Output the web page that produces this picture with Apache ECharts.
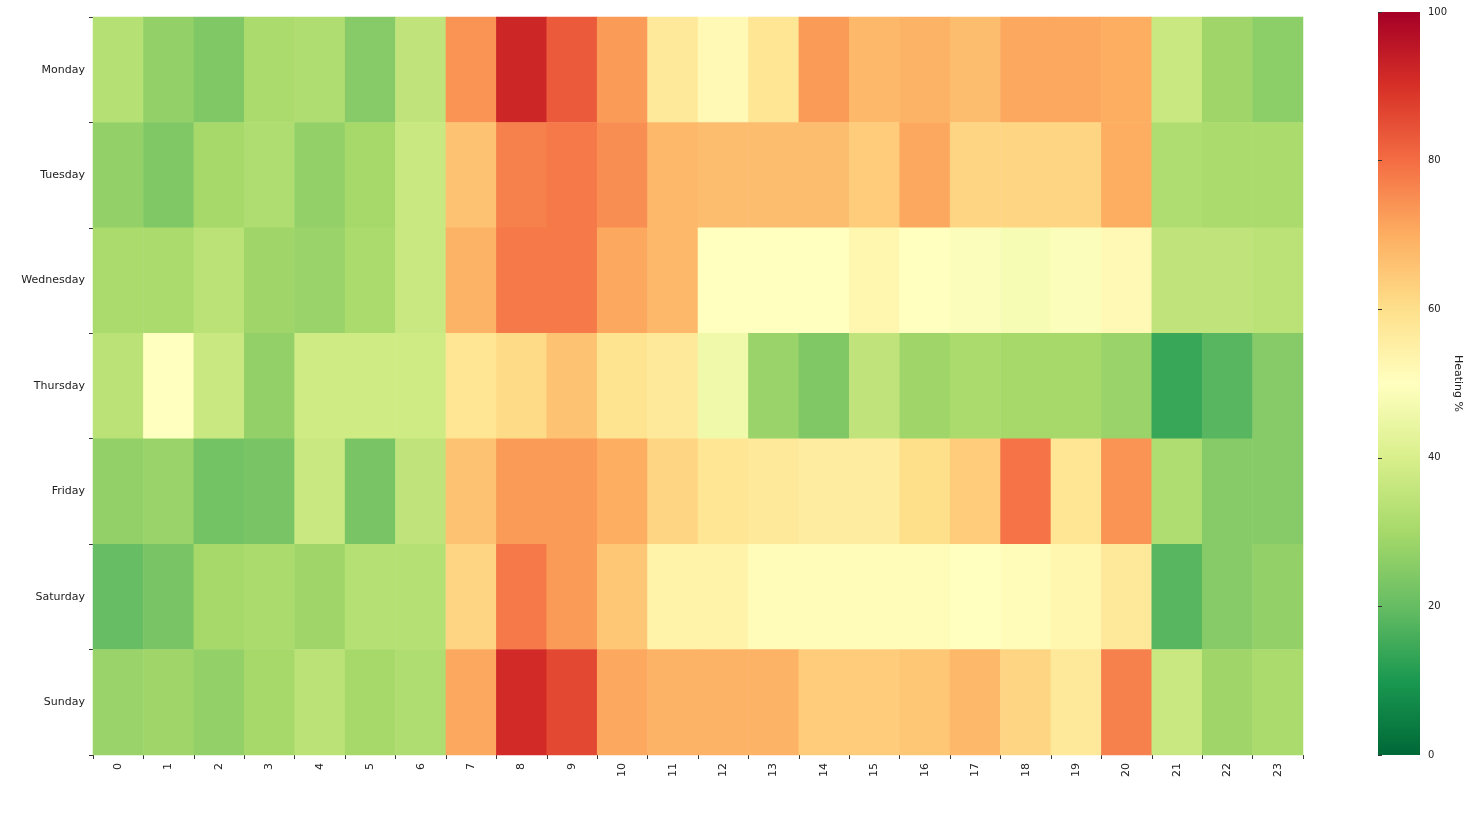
<!DOCTYPE html>
<html><head><meta charset="utf-8">
<script src="https://cdn.jsdelivr.net/npm/echarts@6/dist/echarts.min.js"></script>
<style>html,body{margin:0;background:#fff}#c{width:1484px;height:817px}</style>
</head><body><div id="c"></div>
<script>
const hours = Array.from({length:24},(_,i)=>String(i));
const days = ['Monday','Tuesday','Wednesday','Thursday','Friday','Saturday','Sunday'];
const monday    = [33,27,24,31,32,25,35,74,92,83,73,57,52,58,73,68,69,67,71,71,70,37,29,26];
const tuesday   = [27,24,30,32,27,30,37,66,77,78,75,68,67,67,67,64,71,62,62,62,70,32,31,31];
const wednesday = [31,31,34,29,28,31,37,69,78,78,71,68,50,50,50,53,50,49,48,49,52,35,35,34];
const thursday  = [34,50,37,27,38,38,38,58,61,66,59,57,46,28,24,35,29,31,30,30,28,14,18,25];
const friday    = [27,28,22,23,37,23,35,66,73,73,70,62,58,57,56,56,60,64,79,58,74,32,25,25];
const saturday  = [20,23,30,31,29,33,33,62,78,73,65,54,54,51,51,51,51,50,51,53,57,18,25,27];
const sunday    = [28,29,27,30,34,30,32,71,91,86,71,69,69,69,64,64,65,68,62,57,77,37,29,31];
const rows = [monday,tuesday,wednesday,thursday,friday,saturday,sunday];
const data = [];
rows.forEach((r,y)=>r.forEach((v,x)=>data.push([x,y,v])));
const cmap = ['#006837','#1a9850','#66bd63','#a6d96a','#d9ef8b','#ffffbf','#fee08b','#fdae61','#f46d43','#d73027','#a50026'];
const lbl = {fontFamily:'DejaVu Sans',fontSize:11,color:'#222'};
const chart = echarts.init(document.getElementById('c'));
chart.setOption({
  animation:false,
  grid:[{left:93,right:181,top:17,bottom:62},{left:1378,width:42,top:12,height:743}],
  graphic:[{type:'rect',shape:{x:1378,y:12,width:42,height:743},z:0,
    style:{fill:new echarts.graphic.LinearGradient(0,1,0,0,cmap.map((c,i)=>({offset:i/(cmap.length-1),color:c})))}}],
  xAxis:[{type:'category',data:hours,gridIndex:0,axisLine:{show:false},axisTick:{show:true,length:4,lineStyle:{color:'#333'}},
          axisLabel:Object.assign({rotate:90},lbl),splitLine:{show:false}},
         {type:'value',gridIndex:1,show:false,min:0,max:1}],
  yAxis:[{type:'category',data:days,inverse:true,gridIndex:0,axisLine:{show:false},axisTick:{show:true,length:4,lineStyle:{color:'#333'}},
          axisLabel:Object.assign({},lbl),splitLine:{show:false}},
         {type:'value',gridIndex:1,position:'right',min:0,max:100,interval:20,
          axisLine:{show:false},axisTick:{show:true,length:4,lineStyle:{color:'#333'}},splitLine:{show:false},
          axisLabel:Object.assign({},lbl,{fontSize:10}),name:'Heating %',nameLocation:'middle',nameGap:32,nameRotate:-90,
          nameTextStyle:Object.assign({},lbl)}],
  visualMap:{type:'continuous',min:0,max:100,seriesIndex:0,show:false,inRange:{color:cmap}},
  series:[{type:'heatmap',xAxisIndex:0,yAxisIndex:0,data:data,itemStyle:{borderWidth:0}}]
});
</script></body></html>
